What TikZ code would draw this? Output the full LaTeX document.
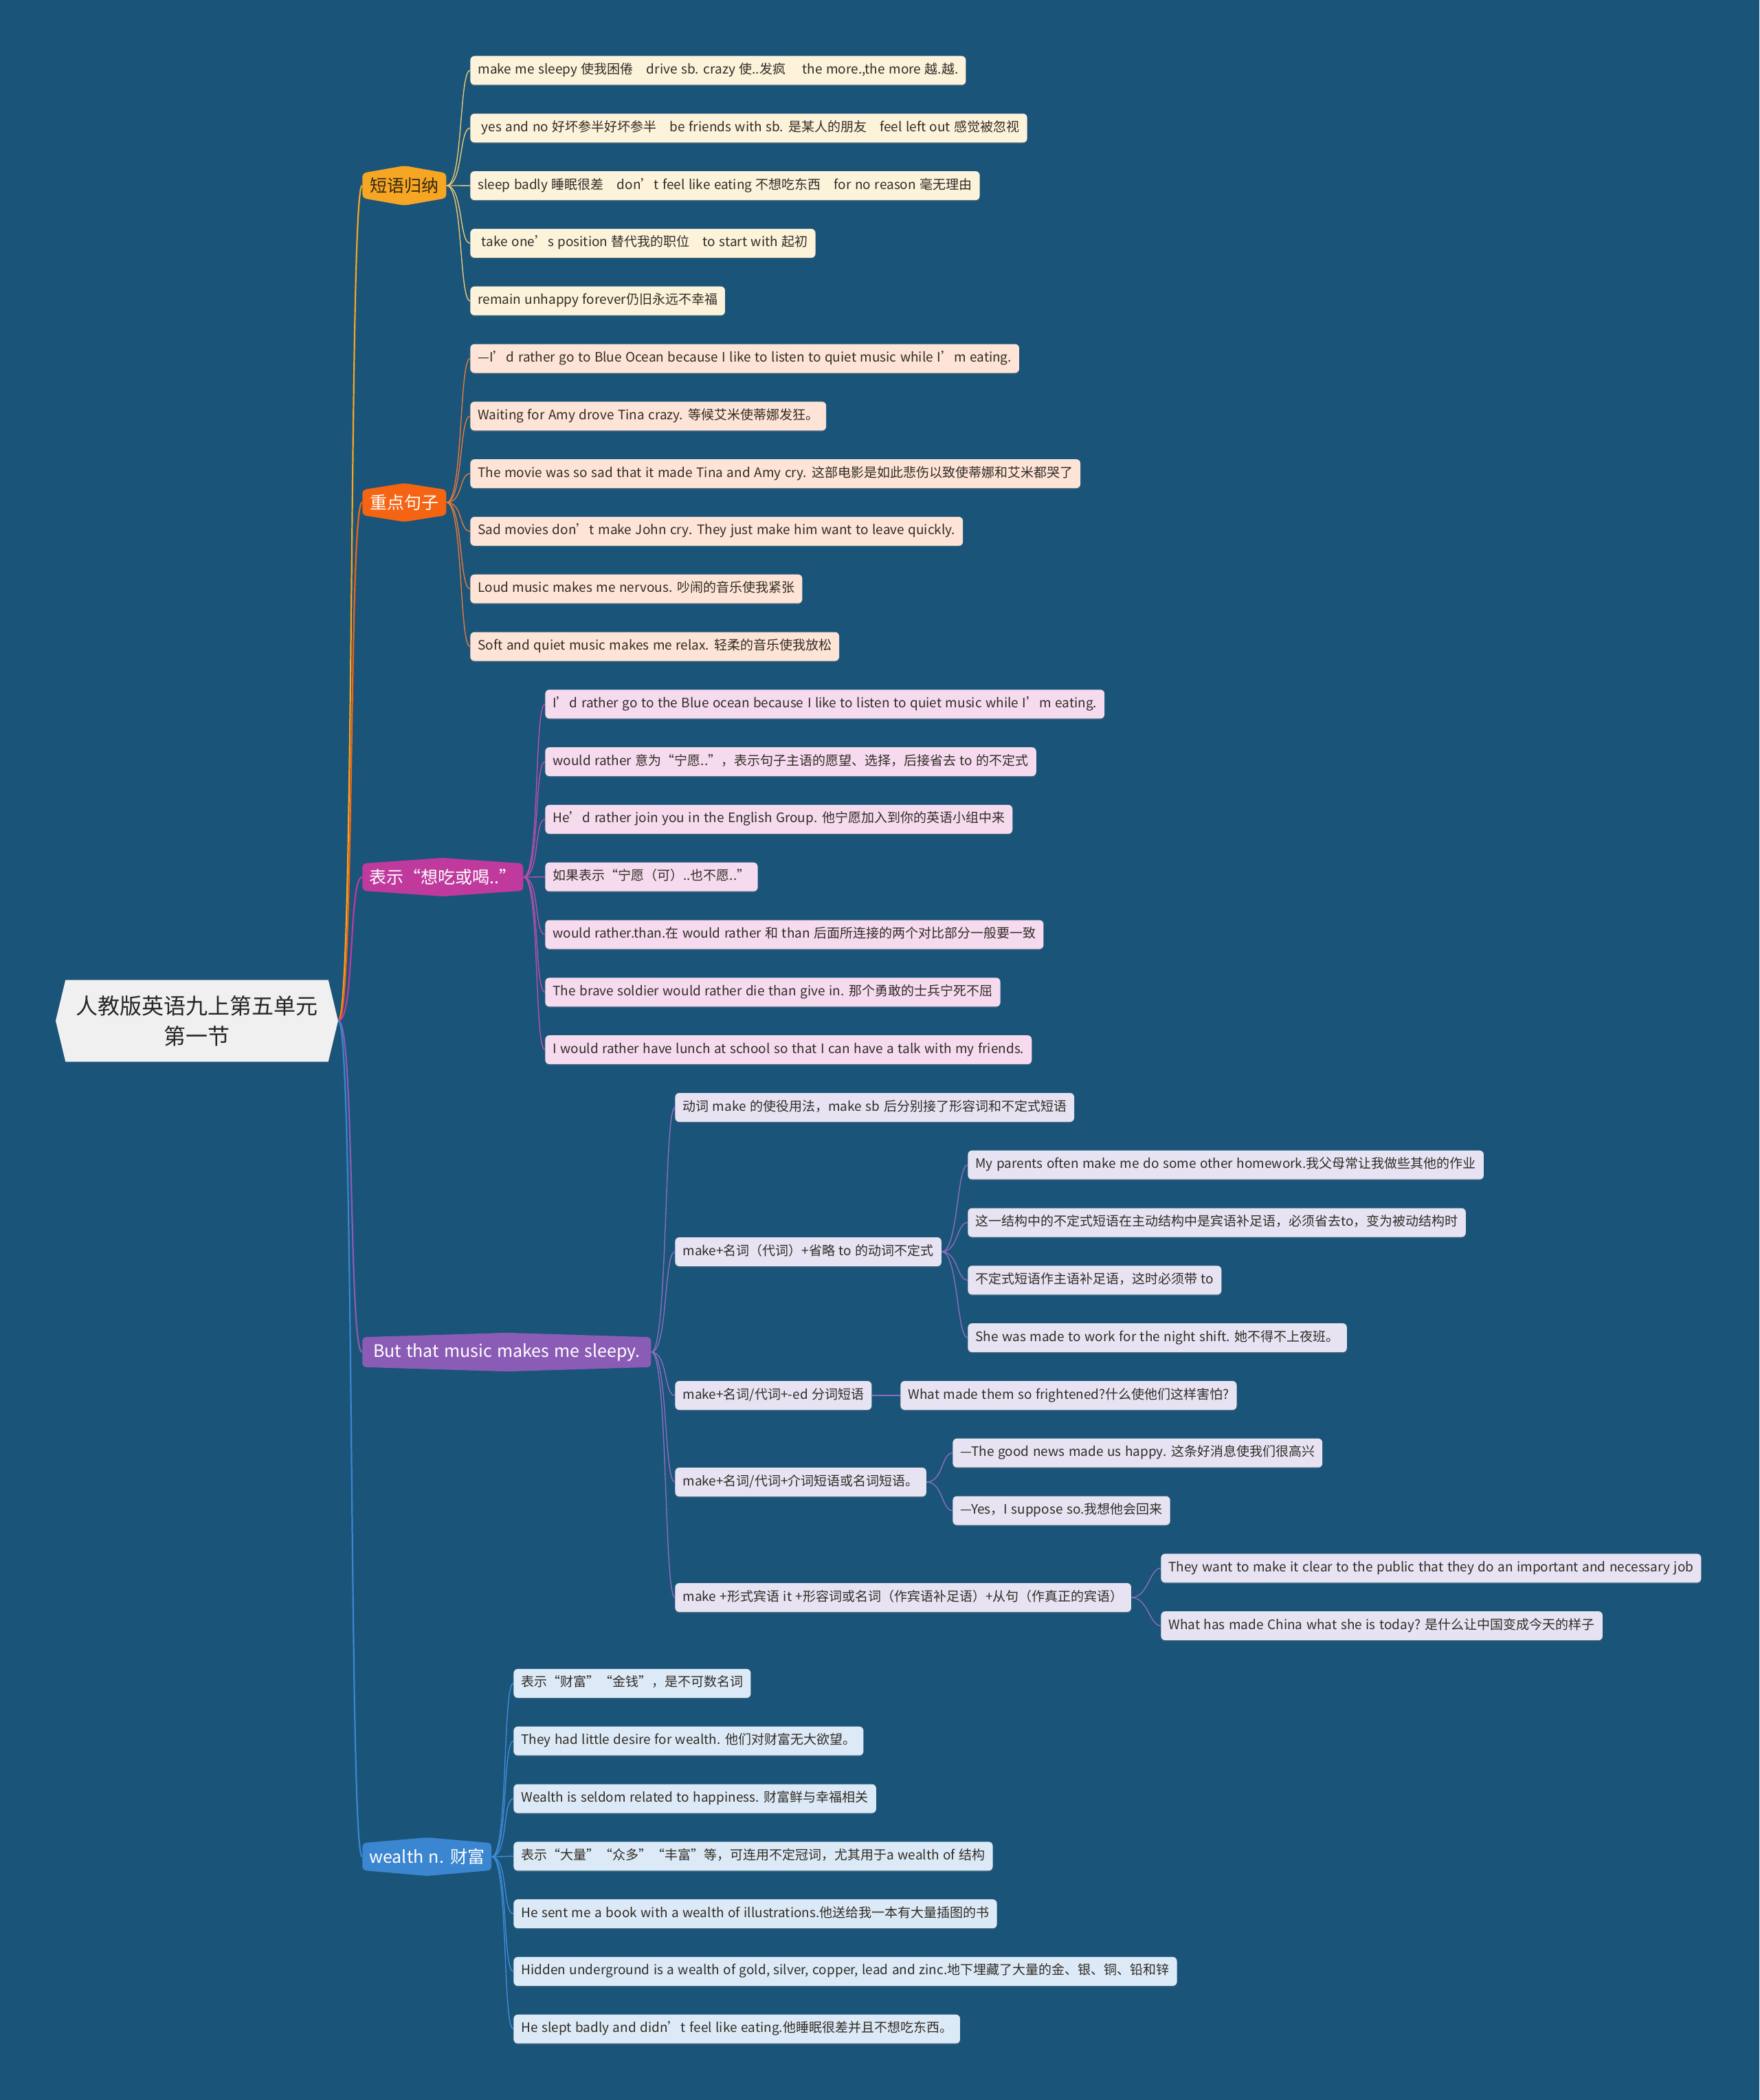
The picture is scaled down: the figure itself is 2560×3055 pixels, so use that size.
\documentclass[tikz,border=0pt]{standalone}
\usepackage{fontspec}
\setmainfont{Noto Sans CJK SC}[WordSpace=1.3]
\usetikzlibrary{shapes.symbols,shadows}
\definecolor{bgblue}{RGB}{26,84,120}
\definecolor{rootfill}{RGB}{240,240,240}
\definecolor{roottext}{RGB}{38,38,38}
\definecolor{leaftext}{RGB}{50,44,38}
\definecolor{phrasecol}{RGB}{246,166,35}
\definecolor{phraseline}{RGB}{236,198,118}
\definecolor{phrasetext}{RGB}{52,40,20}
\definecolor{phrasefill}{RGB}{253,242,218}
\definecolor{sentcol}{RGB}{244,100,18}
\definecolor{sentline}{RGB}{232,120,60}
\definecolor{sentfill}{RGB}{253,228,214}
\definecolor{rathercol}{RGB}{192,58,158}
\definecolor{ratherline}{RGB}{184,80,176}
\definecolor{ratherfill}{RGB}{246,219,239}
\definecolor{makecol}{RGB}{139,92,182}
\definecolor{makeline}{RGB}{138,110,192}
\definecolor{makefill}{RGB}{232,227,243}
\definecolor{wealthcol}{RGB}{59,134,208}
\definecolor{wealthline}{RGB}{64,140,214}
\definecolor{wealthfill}{RGB}{220,234,247}

\tikzset{
  leaf/.style={rounded corners=3pt, anchor=west, inner xsep=5.5pt, inner ysep=0pt,
    minimum height=21pt, text height=7pt, text depth=2pt, text=leaftext,
    font=\fontsize{9.5}{11}\selectfont,
    drop shadow={shadow xshift=0pt, shadow yshift=-0.8pt, opacity=0.3}},
  phraseleaf/.style={leaf, fill=phrasefill},
  sentleaf/.style={leaf, fill=sentfill},
  ratherleaf/.style={leaf, fill=ratherfill},
  makeleaf/.style={leaf, fill=makefill},
  wealthleaf/.style={leaf, fill=wealthfill},
  branch/.style={signal, signal to=north and south, rounded corners=2.5pt,
    anchor=west, minimum height=28pt, inner xsep=5pt, text=white,
    font=\fontsize{12.5}{14}\selectfont},
  rootnode/.style={signal, signal to=east and west, signal pointer angle=153,
    fill=rootfill, text=roottext, minimum width=205.5pt, minimum height=59.5pt,
    align=center, font=\fontsize{16}{22}\selectfont},
  trunk/.style={line width=1.1pt, out=0, in=180, out distance=12pt, in distance=10pt},
  link/.style={line width=0.7pt, out=0, in=180, out distance=12pt, in distance=8pt},
}

\begin{document}
\begin{tikzpicture}[x=0.5pt,y=-0.5pt]
  \fill[bgblue] (0,0) rectangle (2560,3055);
  \useasboundingbox (0,0) rectangle (2560,3055);

  % centre
  \node[rootnode] (root) at (286.5,1485) {人教版英语九上第五单元\\第一节};

  % main branches
  \node[branch, fill=phrasecol, text=phrasetext, minimum width=61pt,
    signal pointer angle=160] (phrase) at (527,270) {短语归纳};
  \node[branch, fill=sentcol, minimum width=61pt,
    signal pointer angle=162] (sent) at (527,731) {重点句子};
  \node[branch, fill=rathercol, minimum width=115pt,
    signal pointer angle=172] (rather) at (527,1276) {表示“想吃或喝..”};
  \node[branch, fill=makecol, minimum width=210pt,
    signal pointer angle=176.5] (make) at (527,1967) {But that music makes me sleepy.};
  \node[branch, fill=wealthcol, minimum width=93pt,
    signal pointer angle=170] (wealth) at (527,2701) {wealth n. 财富};

  \draw[trunk, phrasecol] (root.east) to (phrase.west);
  \draw[trunk, sentcol] (root.east) to (sent.west);
  \draw[trunk, rathercol] (root.east) to (rather.west);
  \draw[trunk, makecol] (root.east) to (make.west);
  \draw[trunk, wealthcol] (root.east) to (wealth.west);

  % phrases
  \node[phraseleaf] (a1) at (684,102.5) {make me sleepy 使我困倦\quad drive sb. crazy 使..发疯\quad\ the more.,the more 越.越.};
  \node[phraseleaf] (a2) at (684,186.3) {\ yes and no 好坏参半好坏参半\quad be friends with sb. 是某人的朋友\quad feel left out 感觉被忽视};
  \node[phraseleaf] (a3) at (684,270.1) {sleep badly 睡眠很差\quad don’t feel like eating 不想吃东西\quad for no reason 毫无理由};
  \node[phraseleaf] (a4) at (684,353.9) {\ take one’s position 替代我的职位\quad to start with 起初};
  \node[phraseleaf] (a5) at (684,437.7) {remain unhappy forever仍旧永远不幸福};
  \foreach \n in {a1,a2,a3,a4,a5}
    \draw[link, phraseline] (phrase.east) to (\n.west);

  % key sentences
  \node[sentleaf] (b1) at (684,521.5) {—I’d rather go to Blue Ocean because I like to listen to quiet music while I’m eating.};
  \node[sentleaf] (b2) at (684,605.3) {Waiting for Amy drove Tina crazy. 等候艾米使蒂娜发狂。};
  \node[sentleaf] (b3) at (684,689.1) {The movie was so sad that it made Tina and Amy cry. 这部电影是如此悲伤以致使蒂娜和艾米都哭了};
  \node[sentleaf] (b4) at (684,772.9) {Sad movies don’t make John cry. They just make him want to leave quickly.};
  \node[sentleaf] (b5) at (684,856.7) {Loud music makes me nervous. 吵闹的音乐使我紧张};
  \node[sentleaf] (b6) at (684,940.5) {Soft and quiet music makes me relax. 轻柔的音乐使我放松};
  \foreach \n in {b1,b2,b3,b4,b5,b6}
    \draw[link, sentline] (sent.east) to (\n.west);

  % would rather
  \node[ratherleaf] (c1) at (793,1024.3) {I’d rather go to the Blue ocean because I like to listen to quiet music while I’m eating.};
  \node[ratherleaf] (c2) at (793,1108.1) {would rather 意为“宁愿..”，表示句子主语的愿望、选择，后接省去 to 的不定式};
  \node[ratherleaf] (c3) at (793,1191.9) {He’d rather join you in the English Group. 他宁愿加入到你的英语小组中来};
  \node[ratherleaf] (c4) at (793,1275.7) {如果表示“宁愿（可）..也不愿..”};
  \node[ratherleaf] (c5) at (793,1359.5) {would rather.than.在 would rather 和 than 后面所连接的两个对比部分一般要一致};
  \node[ratherleaf] (c6) at (793,1443.3) {The brave soldier would rather die than give in. 那个勇敢的士兵宁死不屈};
  \node[ratherleaf] (c7) at (793,1527.1) {I would rather have lunch at school so that I can have a talk with my friends.};
  \foreach \n in {c1,c2,c3,c4,c5,c6,c7}
    \draw[link, ratherline] (rather.east) to (\n.west);

  % make
  \node[makeleaf] (d1) at (982,1611) {动词 make 的使役用法，make sb 后分别接了形容词和不定式短语};
  \node[makeleaf] (d2) at (982,1821) {make+名词（代词）+省略 to 的动词不定式};
  \node[makeleaf] (d3) at (982,2030) {make+名词/代词+-ed 分词短语};
  \node[makeleaf] (d4) at (982,2156) {make+名词/代词+介词短语或名词短语。};
  \node[makeleaf] (d5) at (982,2324) {make +形式宾语 it +形容词或名词（作宾语补足语）+从句（作真正的宾语）};
  \foreach \n in {d1,d2,d3,d4,d5}
    \draw[link, makeline] (make.east) to (\n.west);

  \node[makeleaf] (e1) at (1408,1694.7) {My parents often make me do some other homework.我父母常让我做些其他的作业};
  \node[makeleaf] (e2) at (1408,1778.5) {这一结构中的不定式短语在主动结构中是宾语补足语，必须省去to，变为被动结构时};
  \node[makeleaf] (e3) at (1408,1862.3) {不定式短语作主语补足语，这时必须带 to};
  \node[makeleaf] (e4) at (1408,1946.1) {She was made to work for the night shift. 她不得不上夜班。};
  \node[makeleaf] (e5) at (1310,2030) {What made them so frightened?什么使他们这样害怕?};
  \node[makeleaf] (e6) at (1386,2113.7) {—The good news made us happy. 这条好消息使我们很高兴};
  \node[makeleaf] (e7) at (1386,2197.5) {—Yes，I suppose so.我想他会回来};
  \node[makeleaf] (e8) at (1689,2281.3) {They want to make it clear to the public that they do an important and necessary job};
  \node[makeleaf] (e9) at (1689,2365.1) {What has made China what she is today? 是什么让中国变成今天的样子};
  \foreach \p/\n in {d2/e1,d2/e2,d2/e3,d2/e4,d3/e5,d4/e6,d4/e7,d5/e8,d5/e9}
    \draw[link, makeline] (\p.east) to (\n.west);

  % wealth
  \node[wealthleaf] (f1) at (747,2448.9) {表示“财富”“金钱”，是不可数名词};
  \node[wealthleaf] (f2) at (747,2532.7) {They had little desire for wealth. 他们对财富无大欲望。};
  \node[wealthleaf] (f3) at (747,2616.5) {Wealth is seldom related to happiness. 财富鲜与幸福相关};
  \node[wealthleaf] (f4) at (747,2700.3) {表示“大量”“众多”“丰富”等，可连用不定冠词，尤其用于a wealth of 结构};
  \node[wealthleaf] (f5) at (747,2784.1) {He sent me a book with a wealth of illustrations.他送给我一本有大量插图的书};
  \node[wealthleaf] (f6) at (747,2867.9) {Hidden underground is a wealth of gold, silver, copper, lead and zinc.地下埋藏了大量的金、银、铜、铅和锌};
  \node[wealthleaf] (f7) at (747,2951.7) {He slept badly and didn’t feel like eating.他睡眠很差并且不想吃东西。};
  \foreach \n in {f1,f2,f3,f4,f5,f6,f7}
    \draw[link, wealthline] (wealth.east) to (\n.west);
\end{tikzpicture}
\end{document}
